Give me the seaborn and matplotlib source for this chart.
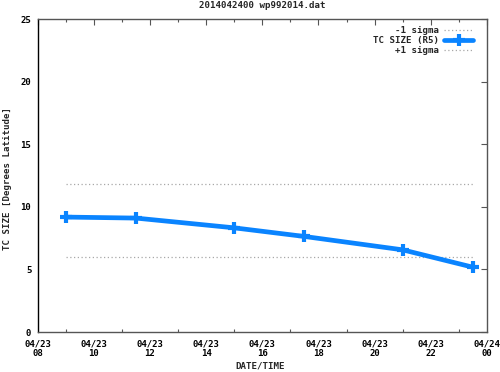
import matplotlib
matplotlib.use("Agg")
import matplotlib.pyplot as plt
from matplotlib.ticker import MultipleLocator
from matplotlib.lines import Line2D
import seaborn as sns
import pandas as pd

# Data (hours since 04/23 00)
hours = [9.0, 11.5, 15.0, 17.5, 21.0, 23.5]
tc_size = [9.19, 9.11, 8.33, 7.64, 6.57, 5.18]
minus_sigma = [6.0, 6.0, 6.0, 6.0, 6.0, 6.0]
plus_sigma = [11.8, 11.8, 11.8, 11.8, 11.8, 11.8]
xtick_pos = [8, 10, 12, 14, 16, 18, 20, 22, 24]
xtick_labels = ["04/23\n08", "04/23\n10", "04/23\n12", "04/23\n14", "04/23\n16",
                "04/23\n18", "04/23\n20", "04/23\n22", "04/24\n00"]
yticks = [0, 5, 10, 15, 20, 25]

sns.set_style("white")
plt.rcParams['font.family'] = ['DejaVu Sans Mono']
plt.rcParams['font.weight'] = 'bold'

FS = 6.6
TFS = 6.45
BLUE = "#0a84ff"

df = pd.DataFrame({"hour": hours, "tc": tc_size, "lo": minus_sigma, "hi": plus_sigma})

fig = plt.figure(figsize=(5.0, 3.72), dpi=100)
ax = fig.add_axes([0.075, 0.1075, 0.899, 0.8405])

sns.lineplot(data=df, x="hour", y="lo", ax=ax, color="#a8a8a8", linestyle=(0, (1, 2)),
             linewidth=0.9, label="-1 sigma")
sns.lineplot(data=df, x="hour", y="tc", ax=ax, color=BLUE, linewidth=3.4,
             label="TC SIZE (R5)")
ax.plot(df["hour"], df["tc"], linestyle="none", marker="+", markersize=9,
        markeredgewidth=3, color=BLUE)
sns.lineplot(data=df, x="hour", y="hi", ax=ax, color="#a8a8a8", linestyle=(0, (1, 2)),
             linewidth=0.9, label="+1 sigma")

ax.set_xlim(8, 24)
ax.set_ylim(0, 25)
ax.set_xticks(xtick_pos)
ax.set_xticklabels(xtick_labels, linespacing=1.1)
ax.xaxis.set_minor_locator(MultipleLocator(1))
ax.set_yticks(yticks)
ax.set_yticklabels([str(v) for v in yticks])

ax.tick_params(axis="both", which="major", direction="in", length=4, width=0.8,
               top=True, right=True, labelsize=TFS, colors="#555555", labelcolor="black")
ax.tick_params(axis="x", which="major", pad=5.5)
ax.tick_params(axis="y", which="major", pad=4.5)
ax.tick_params(axis="x", which="minor", direction="in", length=2, width=0.8,
               top=True, bottom=True, colors="#555555")

for s in ["top", "right", "bottom"]:
    ax.spines[s].set_color("#555555")
    ax.spines[s].set_linewidth(1.0)
ax.spines["left"].set_color("black")
ax.spines["left"].set_linewidth(1.0)

ax.set_title("2014042400 wp992014.dat", fontsize=FS, fontweight="bold", pad=8)
ax.set_xlabel("DATE/TIME", fontsize=FS, fontweight="bold")
ax.set_ylabel("TC SIZE [Degrees Latitude]", fontsize=FS, fontweight="bold")
ax.xaxis.set_label_coords(0.495, -0.093)
ax.yaxis.set_label_coords(-0.056, 0.49)

handles, labels = ax.get_legend_handles_labels()
new_handles = []
for h, l in zip(handles, labels):
    if l == "TC SIZE (R5)":
        new_handles.append(Line2D([], [], color=BLUE, linewidth=3.4, marker="+",
                                  markersize=9, markeredgewidth=3))
    else:
        new_handles.append(h)
leg = ax.legend(new_handles, labels, loc="upper right", frameon=False, markerfirst=False,
                fontsize=FS, handlelength=3.2, handletextpad=0.55, labelspacing=0.12,
                borderaxespad=0.35, bbox_to_anchor=(0.985, 1.0))
for t in leg.get_texts():
    t.set_ha("right")
    t.set_fontweight("bold")
leg._legend_box.align = "right"

fig.savefig("out.png", dpi=100)
